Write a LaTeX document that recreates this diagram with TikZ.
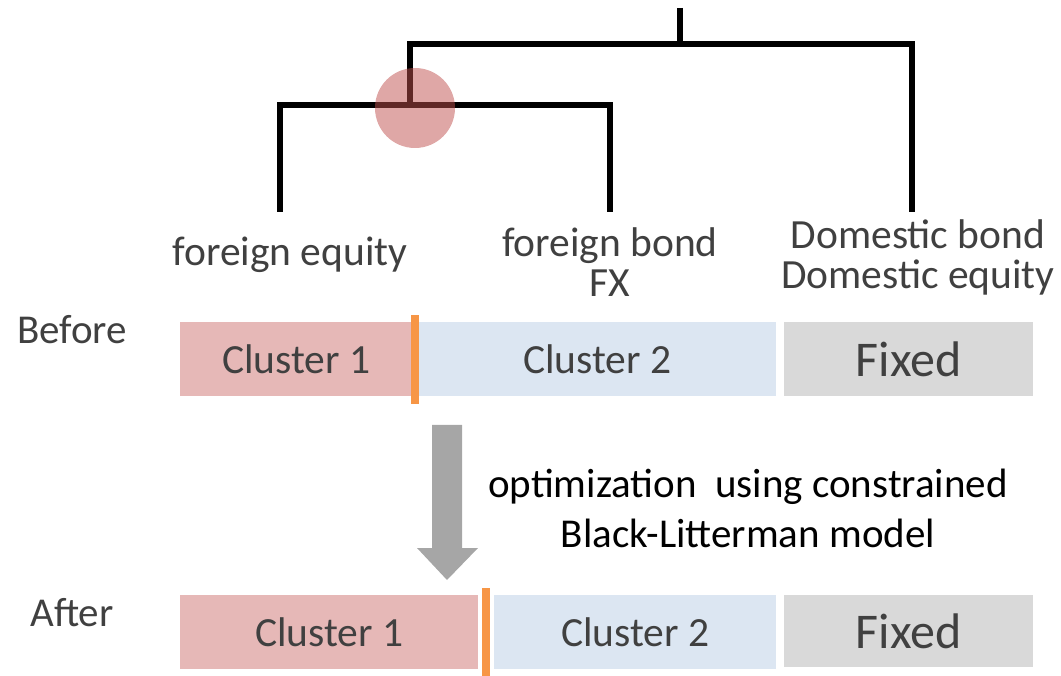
\documentclass[tikz,border=0pt]{standalone}
\usepackage{fontspec}
\setmainfont{Carlito}
\usetikzlibrary{positioning}

\definecolor{clOne}{HTML}{E6B8B7}
\definecolor{clTwo}{HTML}{DCE6F2}
\definecolor{clFix}{HTML}{D9D9D9}
\definecolor{splitor}{HTML}{F79646}
\definecolor{arrgray}{HTML}{A6A6A6}
\definecolor{txtgray}{HTML}{404040}
\definecolor{hilite}{HTML}{C0504D}

\begin{document}
\begin{tikzpicture}[x=1pt,y=-1pt,
  tree/.style={line width=6pt, black, line join=miter},
  leaf/.style={text=txtgray, font=\fontsize{41.5}{40}\selectfont, align=center, inner sep=0pt},
  rowlabel/.style={text=txtgray, font=\fontsize{41}{44}\selectfont, inner sep=0pt},
  bar/.style={rectangle, draw=none, inner sep=0pt, anchor=north west, minimum height=74pt,
    text=txtgray, font=\fontsize{41.5}{44}\selectfont},
  fixbar/.style={bar, fill=clFix, font=\fontsize{50}{54}\selectfont},
  splitter/.style={rectangle, fill=splitor, draw=none, inner sep=0pt, minimum width=8pt, minimum height=89pt},
  note/.style={text=black, font=\fontsize{41}{50}\selectfont, align=center, inner sep=0pt}
]
\useasboundingbox (0,0) rectangle (1061,676);

% dendrogram junctions
\coordinate (top) at (680,8);
\coordinate (rootj) at (680,44);
\coordinate (rootl) at (410,44);
\coordinate (rootr) at (912,44);
\coordinate (domend) at (912,212);
\coordinate (subj) at (410,105);
\coordinate (subl) at (280,105);
\coordinate (subr) at (610,105);
\coordinate (eqend) at (280,212);
\coordinate (bdend) at (610,212);

\draw[tree] (top) -- (rootj);
\draw[tree] (subj) -- (rootl) -- (rootr) -- (domend);
\draw[tree] (eqend) -- (subl) -- (subr) -- (bdend);

% highlighted merge point
\fill[hilite, fill opacity=0.5] (415,108) circle (40);

% leaf labels
\node[leaf] (feq) at (290,255) {foreign equity};
\node[leaf] (fbd) at (610,262) {foreign bond\\FX};
\node[leaf] (dom) at (918,257) {Domestic bond\\Domestic equity};

% before
\node[rowlabel] (before) at (72,330) {Before};
\node[bar, fill=clOne, minimum width=232pt] (b1) at (180,322) {Cluster 1};
\node[bar, fill=clTwo, minimum width=358pt] (b2) at (418,322) {Cluster 2};
\node[fixbar, minimum width=249pt] (b3) at (784,322) {Fixed};
\node[splitter] (bs) at (415,359.5) {};

% transition arrow
\fill[arrgray] (432,425) -- (462,425) -- (462,548) -- (478,548) -- (447,580)
  -- (417,548) -- (432,548) -- cycle;
\node[note] (opt) at (748,508) {optimization\ \ using constrained\\Black-Litterman model};

% after
\node[rowlabel] (after) at (72,613) {After};
\node[bar, fill=clOne, minimum width=298pt] (a1) at (180,595) {Cluster 1};
\node[bar, fill=clTwo, minimum width=282pt] (a2) at (494,595) {Cluster 2};
\node[fixbar, minimum width=249pt, minimum height=72pt] (a3) at (784,595) {Fixed};
\node[splitter] (as) at (486,632) {};
\end{tikzpicture}
\end{document}
